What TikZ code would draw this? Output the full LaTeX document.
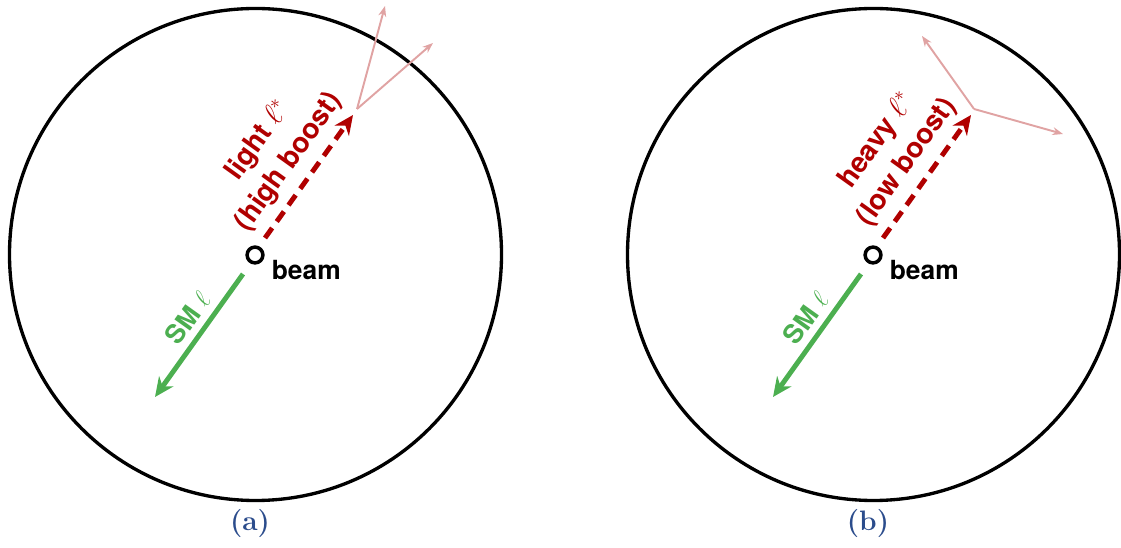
\documentclass[tikz,border=0pt]{standalone}
\usepackage{fontspec}
\setsansfont{TeX Gyre Heros}
\usepackage{xcolor}
\usepackage{tikz}
\usetikzlibrary{positioning, arrows.meta}
\definecolor{StarRed}{HTML}{B00000}
\definecolor{SMGreen}{HTML}{4CAF50}
\definecolor{DecayPink}{HTML}{E0A3A3}
\definecolor{CapBlue}{HTML}{2B4C8C}
\tikzset{
  detector/.style={draw=black, line width=1.9pt},
  beampipe/.style={circle, draw=black, line width=2pt, minimum size=9pt, inner sep=0pt},
  smlep/.style={draw=SMGreen, line width=2.8pt, -{Stealth[length=11pt, width=10pt]}},
  exlep/.style={draw=StarRed, line width=2.8pt, dash pattern=on 7pt off 4.5pt,
    -{Stealth[length=11pt, width=10pt]}},
  daughter/.style={draw=DecayPink, line width=1.1pt, -{Stealth[length=6pt, width=4.5pt]}},
  lab/.style={font=\sffamily\bfseries\fontsize{15}{20}\selectfont, inner sep=2pt},
  caplab/.style={font=\bfseries\fontsize{16}{18}\selectfont, text=CapBlue},
}
\newcommand{\eventview}[5]{%
  % #1 prefix, #2 beam x, #3 first line, #4 second line, #5 caption
  \begin{scope}[shift={(#2,292)}]
    \draw[detector] (0.5,0.5) circle[radius=246];
    \node[beampipe] (#1beam) at (0,0) {};
    \node[lab, anchor=west] (#1beamlab) at (13,-15) {beam};
    \coordinate (#1smA) at (-12,-19);
    \coordinate (#1smB) at (-100,-142);
    \draw[smlep] (#1smA) -- node[lab, text=SMGreen, pos=0.45, sloped, above=2pt] (#1smlab) {SM $\ell$} (#1smB);
    \coordinate (#1exA) at (10,17);
    \coordinate (#1exB) at (98,140);
    \draw[exlep] (#1exA) -- node[lab, font=\sffamily\bfseries\fontsize{16}{21}\selectfont, text=StarRed,
      pos=0.5, sloped, above=3pt, align=center] (#1exlab) {#3\\#4} (#1exB);
    \node[caplab] (#1cap) at (-5,-268) {#5};
  \end{scope}}

\begin{document}
\begin{tikzpicture}[x=0.02cm, y=0.02cm]
  \useasboundingbox (0,0) rectangle (1121,547);
  \eventview{a}{255}{light $\ell^*$}{(high boost)}{(a)}
  \eventview{b}{873}{heavy $\ell^*$}{(low boost)}{(b)}
  % decay of the boosted excited lepton
  \coordinate (aV) at (357,438);
  \coordinate (aD1) at (385,541);
  \coordinate (aD2) at (433,504);
  \draw[daughter] (aV) -- (aD1);
  \draw[daughter] (aV) -- (aD2);
  % decay of the slow excited lepton
  \coordinate (bV) at (974,438);
  \coordinate (bD1) at (922,511);
  \coordinate (bD2) at (1063,413);
  \draw[daughter] (bV) -- (bD1);
  \draw[daughter] (bV) -- (bD2);
\end{tikzpicture}
\end{document}
